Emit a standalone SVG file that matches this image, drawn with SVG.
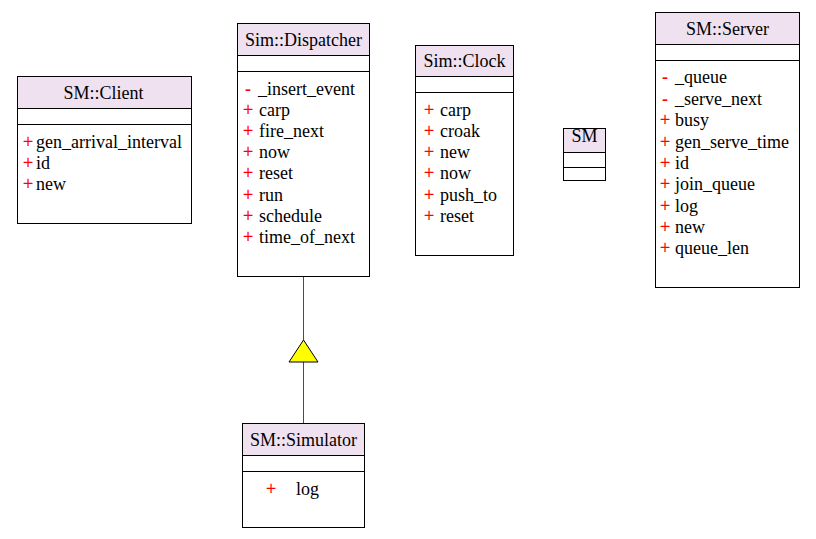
<svg xmlns="http://www.w3.org/2000/svg" width="816" height="539" viewBox="0 0 816 539">
<style>
.box{fill:#ffffff;stroke:#000000;stroke-width:1}
.hdr{fill:#f0e1f1;stroke:#000000;stroke-width:1}
.ln{stroke:#000000;stroke-width:1}
text{font-family:"Liberation Serif","Times New Roman",serif;font-size:18px;fill:#000000}
.t{text-anchor:middle}
.v{fill:#ff0000;stroke:#ff0000;stroke-width:0.3}
.m{fill:#ff0000;font-weight:bold}
.conn{stroke:#ff0000;stroke-width:1;fill:none}
</style>
<rect width="816" height="539" fill="#ffffff"/>
<g id="connectors">
<line class="conn" x1="303.5" y1="276" x2="303.5" y2="340"/>
<line class="conn" x1="303.5" y1="362" x2="303.5" y2="423"/>
<polygon points="303.5,340 289,362 318,362" fill="#ffff00" stroke="#000000" stroke-width="1"/>
</g>
<g id="client">
<rect class="box" x="17.5" y="76.5" width="174" height="147"/>
<rect class="hdr" x="17.5" y="76.5" width="174" height="32"/>
<line class="ln" x1="17.5" y1="124.5" x2="191.5" y2="124.5"/>
<text class="t" x="103.5" y="99">SM::Client</text>
<text class="v" x="23" y="148">+</text><text x="36" y="148">gen_arrival_interval</text>
<text class="v" x="23" y="169">+</text><text x="36" y="169">id</text>
<text class="v" x="23" y="190">+</text><text x="36" y="190">new</text>
</g>
<g id="dispatcher">
<rect class="box" x="237.5" y="23.5" width="132" height="253"/>
<rect class="hdr" x="237.5" y="23.5" width="132" height="32"/>
<line class="ln" x1="237.5" y1="71.5" x2="369.5" y2="71.5"/>
<text class="t" x="303.5" y="46">Sim::Dispatcher</text>
<text class="m" x="245" y="95">-</text><text x="258" y="95">_insert_event</text>
<text class="v" x="243" y="116">+</text><text x="259" y="116">carp</text>
<text class="v" x="243" y="137">+</text><text x="259" y="137">fire_next</text>
<text class="v" x="243" y="158">+</text><text x="259" y="158">now</text>
<text class="v" x="243" y="179">+</text><text x="259" y="179">reset</text>
<text class="v" x="243" y="201">+</text><text x="259" y="201">run</text>
<text class="v" x="243" y="222">+</text><text x="259" y="222">schedule</text>
<text class="v" x="243" y="243">+</text><text x="259" y="243">time_of_next</text>
</g>
<g id="clock">
<rect class="box" x="415.5" y="45.5" width="98" height="210"/>
<rect class="hdr" x="415.5" y="45.5" width="98" height="31"/>
<line class="ln" x1="415.5" y1="92.5" x2="513.5" y2="92.5"/>
<text class="t" x="464.5" y="67">Sim::Clock</text>
<text class="v" x="424" y="116">+</text><text x="440" y="116">carp</text>
<text class="v" x="424" y="137">+</text><text x="440" y="137">croak</text>
<text class="v" x="424" y="158">+</text><text x="440" y="158">new</text>
<text class="v" x="424" y="179">+</text><text x="440" y="179">now</text>
<text class="v" x="424" y="201">+</text><text x="440" y="201">push_to</text>
<text class="v" x="424" y="222">+</text><text x="440" y="222">reset</text>
</g>
<g id="sm">
<rect class="box" x="563.5" y="128.5" width="42" height="52"/>
<rect class="hdr" x="563.5" y="128.5" width="42" height="24"/>
<line class="ln" x1="563.5" y1="167.5" x2="605.5" y2="167.5"/>
<text class="t" x="584.5" y="142">SM</text>
</g>
<g id="server">
<rect class="box" x="655.5" y="12.5" width="144" height="275"/>
<rect class="hdr" x="655.5" y="12.5" width="144" height="32"/>
<line class="ln" x1="655.5" y1="60.5" x2="799.5" y2="60.5"/>
<text class="t" x="727.5" y="35">SM::Server</text>
<text class="m" x="662" y="83">-</text><text x="675" y="83">_queue</text>
<text class="m" x="662" y="105">-</text><text x="675" y="105">_serve_next</text>
<text class="v" x="660" y="126">+</text><text x="675" y="126">busy</text>
<text class="v" x="660" y="148">+</text><text x="675" y="148">gen_serve_time</text>
<text class="v" x="660" y="169">+</text><text x="675" y="169">id</text>
<text class="v" x="660" y="190">+</text><text x="675" y="190">join_queue</text>
<text class="v" x="660" y="212">+</text><text x="675" y="212">log</text>
<text class="v" x="660" y="233">+</text><text x="675" y="233">new</text>
<text class="v" x="660" y="254">+</text><text x="675" y="254">queue_len</text>
</g>
<g id="simulator">
<rect class="box" x="242.5" y="423.5" width="122" height="104"/>
<rect class="hdr" x="242.5" y="423.5" width="122" height="32"/>
<line class="ln" x1="242.5" y1="471.5" x2="364.5" y2="471.5"/>
<text class="t" x="303.5" y="446">SM::Simulator</text>
<text class="v" x="266" y="495">+</text><text x="296" y="495">log</text>
</g>
</svg>
